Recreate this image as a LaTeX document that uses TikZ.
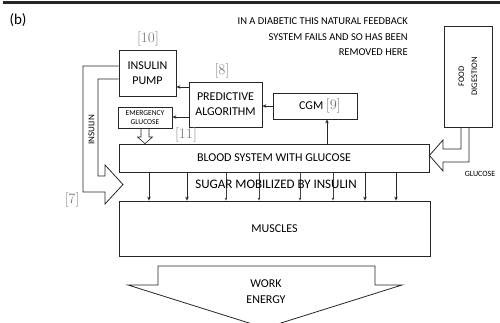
\documentclass[tikz,border=0pt]{standalone}
\usepackage{fontspec}
\setmainfont{Carlito}
\usetikzlibrary{arrows.meta,calc}
\newcommand\fsz[2]{\fontsize{#1}{#2}\selectfont}
\begin{document}
\begin{tikzpicture}[x=1pt,y=-1pt,
  box/.style={draw=black!85, line width=0.8pt, inner sep=0pt, align=center, font=\fsz{12}{15}},
  ln/.style={draw=black!85, line width=0.8pt},
  arr/.style={draw=black!85, line width=0.8pt, -{Stealth[length=4pt,width=3.5pt]}},
  thinarr/.style={draw=black!75, line width=0.5pt, -{Stealth[length=3pt,width=2.5pt]}},
  refno/.style={text=black!50, font=\fsz{15}{15}, inner sep=0pt}]
\useasboundingbox (0,0) rectangle (500,323);
\fill[black!85] (3,1) rectangle (500,4.5);
\node[inner sep=0pt] (lbl) at (18,20) {\fsz{15}{18}(b)};
\node[anchor=north east, align=right, font=\fsz{10.5}{15.5}, inner sep=0pt] (note) at (408,17.5)
  {IN A DIABETIC THIS NATURAL FEEDBACK\\SYSTEM FAILS AND SO HAS BEEN\\REMOVED HERE};

% boxes
\node[box, minimum width=57pt, minimum height=46pt] (pump) at (147.5,73) {INSULIN\\PUMP};
\node[box, minimum width=73pt, minimum height=45pt] (pred) at (225.5,104.5) {PREDICTIVE\\ALGORITHM};
\node[box, minimum width=54pt, minimum height=21pt, font=\fsz{7.5}{9.5}] (emerg) at (145,117.5) {EMERGENCY\\GLUCOSE};
\node[box, minimum width=84pt, minimum height=26pt] (cgm) at (315,106) {\hspace*{10pt}CGM {\fsz{15}{15}\color{black!55}$[9]$}};
\node[box, minimum width=48pt, minimum height=101pt] (food) at (468,76.5) {};
\node[rotate=90, align=center, font=\fsz{8.5}{13}, inner sep=0pt] (foodtxt) at (food.center) {FOOD\\DIGESTION};
\node[box, minimum width=310pt, minimum height=28pt] (blood) at (274,158) {BLOOD SYSTEM WITH GLUCOSE};
\node[box, minimum width=311pt, minimum height=55pt] (muscles) at (274.5,228.5) {MUSCLES};

% reference numbers
\node[refno] (r10) at (148,39) {$[10]$};
\node[refno] (r8) at (222,71) {$[8]$};
\node[refno] (r11) at (186,135) {$[11]$};
\node[refno] (r7) at (72,200) {$[7]$};

% signal arrows
\draw[arr] (pred.west |- 0,87) -- (pump.east |- 0,87);
\draw[arr] (pred.west |- 0,117) -- (emerg.east |- 0,117);
\draw[arr] (cgm.west) -- (pred.east |- cgm.west);
\draw[arr] (blood.north -| 327,0) -- (cgm.south -| 327,0);

% blood -> muscles
\foreach \xx in {149,187,365,396}
  \draw[arr] (blood.south -| \xx,0) -- (muscles.north -| \xx,0);
\foreach \xx in {226,259,300,333}
  \draw[thinarr] (blood.south -| \xx,0) -- (muscles.north -| \xx,0);
\node[font=\fsz{13}{15}, inner sep=0pt] (sugar) at (276,184) {SUGAR MOBILIZED BY INSULIN};

% insulin hollow arrow
\draw[ln, line join=miter] (pump.west |- 0,66) -- (83,66) -- (83,192) -- (105,192) -- (105,204)
  -- (123,184.5) -- (105,165) -- (105,176) -- (98,176) -- (98,79) -- (pump.west |- 0,79);
\node[rotate=90, font=\fsz{9}{10}, inner sep=0pt] (inslbl) at (91.5,130) {INSULIN};

% glucose hollow arrow
\draw[ln, line join=miter] (food.south -| 461,0) -- (461,149) -- (443,149) -- (443,140)
  -- (blood.east |- 0,155.5) -- (443,171) -- (443,162) -- (469,162) -- (food.south -| 469,0);
\node[font=\fsz{8}{9}, inner sep=0pt] (glulbl) at (480,174) {GLUCOSE};

% emergency glucose hollow arrow
\draw[ln, line width=0.6pt, line join=miter] (emerg.south -| 141,0) -- (141,137) -- (137.5,137)
  -- (blood.north -| 145,0) -- (152.5,137) -- (149,137) -- (emerg.south -| 149,0);

% work energy arrow
\draw[ln, line join=miter] (158,266) -- (375,266) -- (375,285) -- (402,285) -- (265,328)
  -- (128,285) -- (158,285) -- cycle;
\node[align=center, font=\fsz{12}{16}, inner sep=0pt] (work) at (266,292) {WORK\\ENERGY};
\end{tikzpicture}
\end{document}
